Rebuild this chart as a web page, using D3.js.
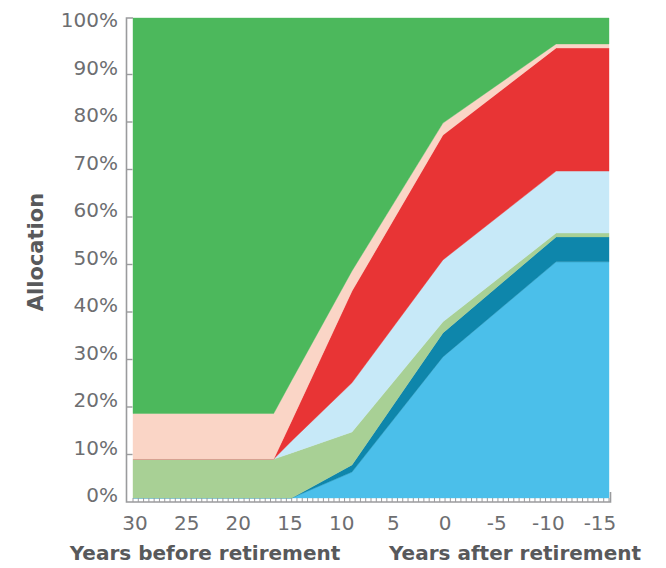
<!DOCTYPE html>
<html>
<head>
<meta charset="utf-8">
<script src="https://cdnjs.cloudflare.com/ajax/libs/d3/7.8.5/d3.min.js"></script>
<style>
  html, body { margin: 0; padding: 0; background: #ffffff; }
  svg { display: block; }
</style>
</head>
<body>
<svg id="chart" width="666" height="568"></svg>
<script>
// ---- data ----
const years = [30, 16.7, 15, 9.3, 0.7, -10, -15];
const seriesNames = ["s1", "s2", "s3", "s4", "s5", "s6", "s7"];
// layer thickness (%) at each year, bottom to top
const s1 = [0, 0, 0, 5.4, 29.4, 49.2, 49.2];
const s2 = [0, 0, 0, 1.5, 5.0, 5.2, 5.2];
const s3 = [8.1, 8.1, 9.4, 6.85, 2.3, 0.8, 0.8];
const s4 = [0, 0, 2.5, 10.25, 12.9, 12.9, 12.9];
const s5 = [0, 0, 4.2, 19.1, 26.0, 25.65, 25.65];
const s6 = [9.5, 9.5, 8.4, 4.2, 2.5, 0.85, 0.85];
const s7 = [82.4, 82.4, 75.5, 52.7, 21.9, 5.4, 5.4];
const seriesColors = ["#4bbfea", "#0e86ab", "#a8d095", "#c7e9f8", "#e83435", "#fad5c6", "#4cb85c"];
const yTickValues = [0, 10, 20, 30, 40, 50, 60, 70, 80, 90, 100];
const xTickValues = [30, 25, 20, 15, 10, 5, 0, -5, -10, -15];
const yTitle = "Allocation";
const xTitleLeft = "Years before retirement";
const xTitleRight = "Years after retirement";

// ---- build table ----
const seriesValues = [s1, s2, s3, s4, s5, s6, s7];
const table = years.map((yr, i) => {
  const row = { year: yr };
  seriesNames.forEach((n, k) => row[n] = seriesValues[k][i]);
  return row;
});
const stacked = d3.stack().keys(seriesNames)(table);

// ---- scales ----
const svg = d3.select("#chart");
const x = d3.scaleLinear().domain([30, -15]).range([133, 609]);
const y = d3.scaleLinear().domain([0, 100]).range([498, 18]);
const xLab = d3.scaleLinear().domain([30, -15]).range([135, 600]);
const yLab = d3.scaleLinear().domain([0, 100]).range([495, 20]);

const area = d3.area()
  .x(d => x(d.data.year))
  .y0(d => y(d[0]))
  .y1(d => y(d[1]));

svg.append("g").selectAll("path")
  .data(stacked)
  .join("path")
  .attr("d", area)
  .attr("fill", (d, i) => seriesColors[i])
  .attr("stroke", (d, i) => seriesColors[i])
  .attr("stroke-width", 0.4);

// ---- axes ----
const axisColor = "#9a9b9d";
const textColor = "#6d6e71";
const titleColor = "#58595b";
const x0 = x(30) - 6.5, yBottom = y(0) + 4, xRight = x(-15) + 1.5;

// minor ticks along bottom (every half year)
svg.append("g").selectAll("line")
  .data(d3.range(60, -31, -1).map(v => v / 2))
  .join("line")
  .attr("x1", d => x(d)).attr("x2", d => x(d))
  .attr("y1", yBottom).attr("y2", yBottom - 4)
  .attr("stroke", axisColor).attr("stroke-width", 1);

// frame
svg.append("path")
  .attr("d", `M${x(30)},${y(100)}H${x0}V${yBottom}H${xRight}V${yBottom - 10}`)
  .attr("fill", "none")
  .attr("stroke", axisColor)
  .attr("stroke-width", 1.6);

// y ticks
svg.append("g").selectAll("line")
  .data(yTickValues.filter(v => v > 0 && v < 100))
  .join("line")
  .attr("x1", x0).attr("x2", x0 + 6)
  .attr("y1", d => yLab(d) + 7).attr("y2", d => yLab(d) + 7)
  .attr("stroke", axisColor).attr("stroke-width", 1.4);

// y labels
svg.append("g").selectAll("text")
  .data(yTickValues)
  .join("text")
  .attr("x", 118)
  .attr("y", d => yLab(d))
  .attr("dy", "0.36em")
  .attr("text-anchor", "end")
  .attr("font-family", "DejaVu Sans, sans-serif")
  .attr("font-size", 20)
  .attr("fill", textColor)
  .text(d => d + "%");

// x labels
svg.append("g").selectAll("text")
  .data(xTickValues)
  .join("text")
  .attr("x", d => xLab(d))
  .attr("y", 530)
  .attr("text-anchor", "middle")
  .attr("font-family", "DejaVu Sans, sans-serif")
  .attr("font-size", 20)
  .attr("fill", textColor)
  .text(d => d);

// titles
svg.append("text")
  .attr("transform", "translate(43,252) rotate(-90)")
  .attr("text-anchor", "middle")
  .attr("font-family", "DejaVu Sans, sans-serif")
  .attr("font-weight", "bold")
  .attr("font-size", 21)
  .attr("fill", titleColor)
  .text(yTitle);

svg.append("text")
  .attr("x", 205).attr("y", 560)
  .attr("text-anchor", "middle")
  .attr("font-family", "DejaVu Sans, sans-serif")
  .attr("font-weight", "bold")
  .attr("font-size", 20)
  .attr("fill", titleColor)
  .text(xTitleLeft);

svg.append("text")
  .attr("x", 515).attr("y", 560)
  .attr("text-anchor", "middle")
  .attr("font-family", "DejaVu Sans, sans-serif")
  .attr("font-weight", "bold")
  .attr("font-size", 20)
  .attr("fill", titleColor)
  .text(xTitleRight);
</script>
</body>
</html>
